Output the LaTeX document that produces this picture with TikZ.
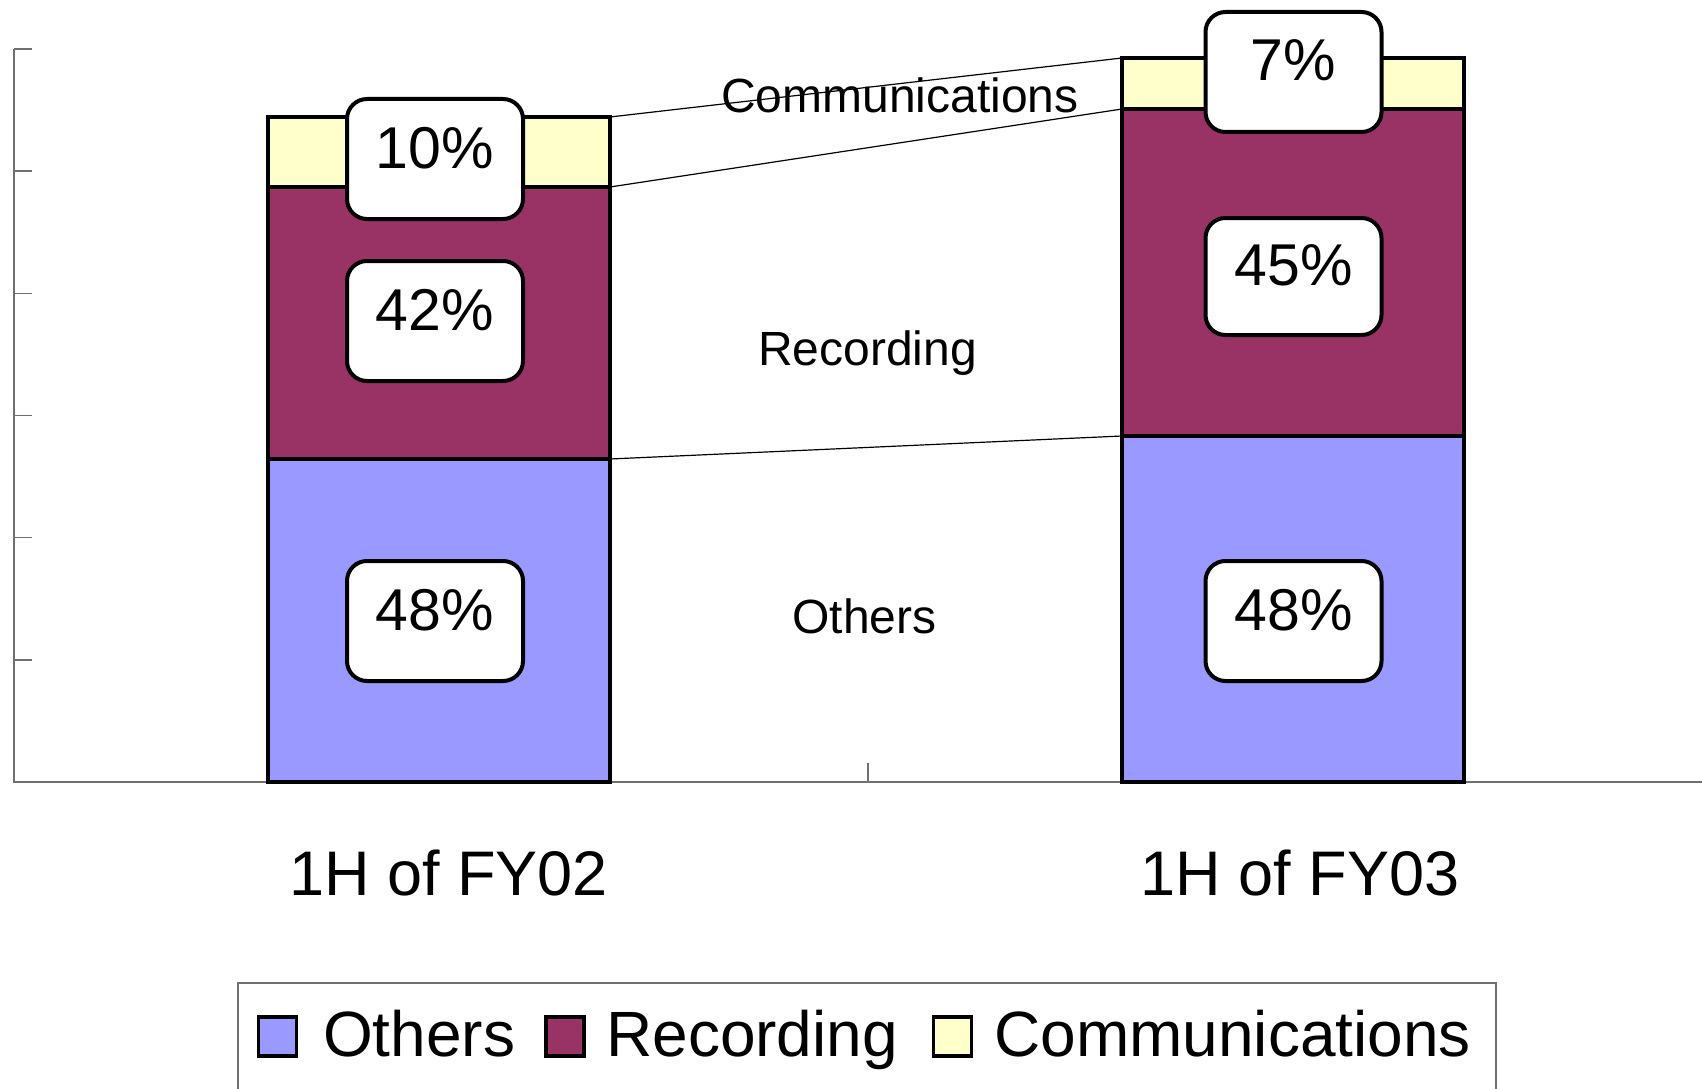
\documentclass[tikz,border=0pt]{standalone}
\usepackage{fontspec}
\setmainfont{Liberation Sans}
\definecolor{othc}{HTML}{9999FF}
\definecolor{recc}{HTML}{993366}
\definecolor{comc}{HTML}{FFFFCC}
\definecolor{axisc}{HTML}{707070}
\begin{document}
\begin{tikzpicture}[x=1pt,y=-1pt,
  seg/.style={draw=black,line width=4pt,inner sep=0pt,outer sep=0pt,minimum width=342pt,anchor=south west},
  pct/.style={draw=black,fill=white,line width=4pt,rounded corners=20pt,minimum width=176pt,minimum height=120pt,inner sep=0pt,text height=42pt,text depth=24pt,font=\fontsize{59}{70}\selectfont},
  ser/.style={font=\fontsize{48}{58}\selectfont,inner sep=0pt,anchor=base},
  cat/.style={font=\fontsize{63}{75}\selectfont,inner sep=0pt,anchor=base},
  legtx/.style={font=\fontsize{64}{76}\selectfont,inner sep=0pt,anchor=base west},
  legsq/.style={draw=black,line width=3.5pt,inner sep=0pt,minimum width=38pt,minimum height=39pt},
  axisline/.style={draw=axisc,line width=1.5pt},
  link/.style={draw=black,line width=1.2pt}]
\useasboundingbox (0,0) rectangle (1702,1089);
% axes
\coordinate (ytop) at (14,49);
\coordinate (yorig) at (14,782);
\coordinate (xend) at (1702,782);
\draw[axisline] (ytop) -- (yorig) -- (xend);
\foreach \k in {0,...,5} {
  \draw[axisline] (14,49+\k*122.17) -- (32,49+\k*122.17);
}
\coordinate (mtick) at (868,763);
\coordinate (mbase) at (868,782);
\draw[axisline] (mtick) -- (mbase);
% left bar
\node[seg,fill=othc,minimum height=323pt] (loth) at (268,782) {};
\node[seg,fill=recc,minimum height=272pt] (lrec) at (loth.north west) {};
\node[seg,fill=comc,minimum height=70pt] (lcom) at (lrec.north west) {};
% right bar
\node[seg,fill=othc,minimum height=346pt] (roth) at (1122,782) {};
\node[seg,fill=recc,minimum height=327pt] (rrec) at (roth.north west) {};
\node[seg,fill=comc,minimum height=51pt] (rcom) at (rrec.north west) {};
% series lines
\draw[link] (lcom.north east) -- (rcom.north west);
\draw[link] (lrec.north east) -- (rrec.north west);
\draw[link] (loth.north east) -- (roth.north west);
% percentage labels
\node[pct] (lpc) at (435,159) {10\%};
\node[pct] (lpr) at (435,321) {42\%};
\node[pct] (lpo) at (435,621) {48\%};
\node[pct] (rpc) at (1293.5,72) {7\%};
\node[pct,minimum height=117pt] (rpr) at (1293.5,276.5) {45\%};
\node[pct] (rpo) at (1293.5,621) {48\%};
% series names
\node[ser] (scom) at (900,113) {Communications};
\node[ser] (srec) at (867.5,365) {Recording};
\node[ser] (soth) at (864.5,633) {Others};
% categories
\node[cat] (cat1) at (448.5,895) {1H of FY02};
\node[cat] (cat2) at (1300,895) {1H of FY03};
% legend
\node[draw=axisc,line width=1.5pt,inner sep=0pt,minimum width=1258pt,minimum height=130pt,anchor=north west] (leg) at (237,982) {};
\node[legsq,fill=othc] (k1) at (277.5,1036.5) {};
\node[legtx] (t1) at (323,1056) {Others};
\node[legsq,fill=recc] (k2) at (565,1036.5) {};
\node[legtx] (t2) at (606,1056) {Recording};
\node[legsq,fill=comc] (k3) at (952.5,1036.5) {};
\node[legtx] (t3) at (994,1056) {Communications};
\end{tikzpicture}
\end{document}
